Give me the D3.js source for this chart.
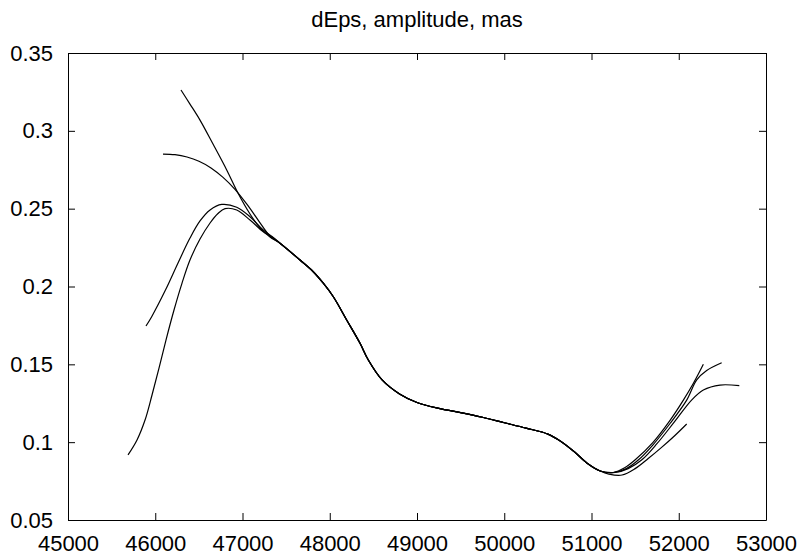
<!DOCTYPE html>
<html>
<head>
<meta charset="utf-8">
<script src="https://cdn.jsdelivr.net/npm/d3@7"></script>
<style>
  body { margin: 0; background: #fff; }
  text { font-family: "Liberation Sans", Arial, sans-serif; }
</style>
</head>
<body>
<div id="chart"></div>
<script>
// tick values
const xTicks = [45000, 46000, 47000, 48000, 49000, 50000, 51000, 52000, 53000];
const yTicks = [0.05, 0.1, 0.15, 0.2, 0.25, 0.3, 0.35];

// start of each curve (before they merge)
const headA = [[46295, 0.3262], [46398, 0.3172], [46513, 0.3069], [46662, 0.2915], [46819, 0.2749],
    [46948, 0.2601], [47086, 0.2466], [47201, 0.2376], [47315, 0.2318]];
const headB = [[46089, 0.2851], [46226, 0.2847], [46364, 0.2832], [46501, 0.2805], [46639, 0.2762],
    [46777, 0.2701], [46914, 0.2624], [47052, 0.2527], [47189, 0.2419], [47315, 0.2324]];
const headC = [[45894, 0.1746], [45959, 0.1806], [46117, 0.1977], [46261, 0.2151], [46398, 0.2311],
    [46513, 0.2421], [46628, 0.2492], [46762, 0.2527], [46934, 0.2509],
    [47086, 0.2448], [47238, 0.2363], [47338, 0.2321]];
const headD = [[45688, 0.0918], [45791, 0.1014], [45883, 0.1142], [45963, 0.1303], [46043, 0.1476],
    [46123, 0.1656], [46215, 0.1849], [46307, 0.2022], [46398, 0.2170], [46513, 0.2305],
    [46628, 0.2408], [46719, 0.2469], [46800, 0.2500], [46934, 0.2491], [47086, 0.2427],
    [47238, 0.2352], [47338, 0.2318]];

// shared middle part
const middle = [[47430, 0.2278], [47659, 0.2170], [47811, 0.2095], [47926, 0.2021], [48041, 0.1934],
    [48194, 0.1785], [48347, 0.1635], [48442, 0.1528], [48600, 0.1400], [48800, 0.1310],
    [49000, 0.1255], [49250, 0.1217], [49500, 0.1190], [49750, 0.1160], [50000, 0.1125],
    [50250, 0.1090], [50500, 0.1052], [50650, 0.1005], [50800, 0.0940], [50950, 0.0865],
    [51100, 0.0815]];

// end of each curve
const tailA = [[51270, 0.0805], [51420, 0.0830], [51574, 0.0885], [51750, 0.0990], [51950, 0.1130],
    [52147, 0.1270], [52282, 0.1335], [52473, 0.1367], [52694, 0.1363]];
const tailB = [[51250, 0.0805], [51400, 0.0830], [51536, 0.0885], [51700, 0.0980], [51900, 0.1120],
    [52091, 0.1270], [52206, 0.1400], [52320, 0.1460], [52492, 0.1510]];
const tailC = [[51250, 0.0805], [51380, 0.0835], [51498, 0.0885], [51700, 0.0995], [51900, 0.1140],
    [52053, 0.1270], [52168, 0.1378], [52282, 0.1500]];
const tailD = [[51200, 0.0795], [51350, 0.0789], [51500, 0.0830], [51650, 0.0895], [51800, 0.0965],
    [51950, 0.1040], [52091, 0.1117]];

const curves = [
    headA.concat(middle, tailA),
    headB.concat(middle, tailB),
    headC.concat(middle, tailC),
    headD.concat(middle, tailD)
];

const width = 805, height = 559;
const margin = {top: 53, right: 39, bottom: 39, left: 68};

const svg = d3.select("#chart")
    .append("svg")
    .attr("width", width)
    .attr("height", height);

const x = d3.scaleLinear()
    .domain([45000, 53000])
    .range([margin.left, width - margin.right]);

const y = d3.scaleLinear()
    .domain([0.05, 0.35])
    .range([height - margin.bottom, margin.top]);

// curves
const line = d3.line()
    .x(d => x(d[0]))
    .y(d => y(d[1]))
    .curve(d3.curveCatmullRom.alpha(0.5));

svg.append("g")
    .selectAll("path")
    .data(curves)
    .join("path")
    .attr("d", line)
    .attr("fill", "none")
    .attr("stroke", "#000")
    .attr("stroke-width", 1.2);

// axes, ticks pointing inwards on all four sides
const fontSize = "22px";

svg.append("g")
    .attr("transform", `translate(0,${height - margin.bottom})`)
    .call(d3.axisBottom(x).tickValues(xTicks).tickFormat(d3.format("d"))
        .tickSizeInner(-7).tickSizeOuter(0).tickPadding(15))
    .call(g => g.selectAll("text").style("font-size", fontSize).attr("fill", "#000"));

svg.append("g")
    .attr("transform", `translate(0,${margin.top})`)
    .call(d3.axisTop(x).tickValues(xTicks).tickFormat("")
        .tickSizeInner(-7).tickSizeOuter(0));

svg.append("g")
    .attr("transform", `translate(${margin.left},0)`)
    .call(d3.axisLeft(y).tickValues(yTicks).tickFormat(d => d3.format("")(+d.toFixed(2)))
        .tickSizeInner(-7).tickSizeOuter(0).tickPadding(15))
    .call(g => g.selectAll("text").style("font-size", fontSize).attr("fill", "#000"));

svg.append("g")
    .attr("transform", `translate(${width - margin.right},0)`)
    .call(d3.axisRight(y).tickValues(yTicks).tickFormat("")
        .tickSizeInner(-7).tickSizeOuter(0));

svg.selectAll(".domain, .tick line").attr("stroke", "#000");

// title
svg.append("text")
    .attr("x", (margin.left + width - margin.right) / 2)
    .attr("y", 27)
    .attr("text-anchor", "middle")
    .style("font-size", "22px")
    .text("dEps, amplitude, mas");
</script>
</body>
</html>
